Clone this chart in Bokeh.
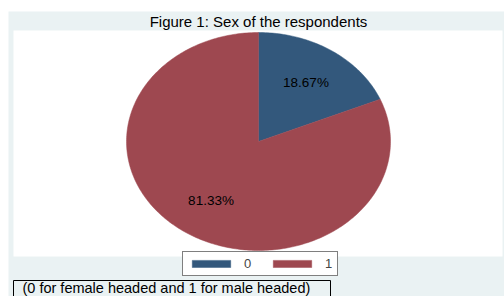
import numpy as np
from bokeh.plotting import figure
from bokeh.models import ColumnDataSource, Range1d
from bokeh.embed import file_html
from bokeh.resources import INLINE
from bokeh.core.properties import value

# ---- data ----
categories = ["0", "1"]
percent = [18.67, 81.33]
colors = ["#33587C", "#9E4850"]
title_text = "Figure 1: Sex of the respondents"
note_text = "(0 for female headed and 1 for male headed)"

W, H = 504, 296
BG = "#EAF2F3"
FONT = value("Liberation Sans")

p = figure(width=W, height=H, output_backend="svg", toolbar_location=None,
           x_axis_type=None, y_axis_type=None, min_border=0,
           x_range=Range1d(0, W), y_range=Range1d(H, 0))
p.outline_line_color = None
p.background_fill_color = "white"
p.border_fill_color = "white"

# background panels
p.quad(left=[8], right=[W], top=[11], bottom=[H], fill_color=BG, line_color=None)
p.quad(left=[13], right=[502], top=[30], bottom=[256], fill_color="white", line_color=None)

# title
p.text(x=[258], y=[21], text=[title_text], text_font=FONT, text_font_size="15px",
       text_align="center", text_baseline="middle", text_color="black")

# pie (elliptical, as in reference)
cx, cy, rx, ry = 258, 141, 132, 109
fr = np.array(percent) / sum(percent)
ends = 90 - 360 * np.cumsum(fr)
starts = np.concatenate([[90], ends[:-1]])
xs, ys, lx, ly = [], [], [], []
for a0, a1 in zip(starts, ends):
    n = max(int(abs(a0 - a1)) + 2, 3)
    th = np.radians(np.linspace(a0, a1, n))
    xs.append(np.concatenate([[cx], cx + rx * np.cos(th)]).tolist())
    ys.append(np.concatenate([[cy], cy - ry * np.sin(th)]).tolist())
    mid = np.radians((a0 + a1) / 2)
    lx.append(cx + 0.65 * rx * np.cos(mid))
    ly.append(cy - 0.65 * ry * np.sin(mid))

src = ColumnDataSource(dict(xs=xs, ys=ys, color=colors, cat=categories))
p.patches(xs="xs", ys="ys", fill_color="color", line_color="color", line_width=0.5,
          source=src, legend_field="cat")

p.text(x=lx, y=ly, text=["%.2f%%" % v for v in percent], text_font=FONT,
       text_font_size="13.5px", text_align="center", text_baseline="middle",
       text_color="black")

# note box
p.quad(left=[13], right=[330], top=[280], bottom=[298], fill_color=BG,
       line_color="black", line_width=1)
p.text(x=[22], y=[287.5], text=[note_text], text_font=FONT, text_font_size="14.5px",
       text_align="left", text_baseline="middle", text_color="black")

# legend
lg = p.legend[0]
lg.orientation = "horizontal"
lg.location = (182, 20)
lg.glyph_width = 48
lg.glyph_height = 9
lg.label_width = 8
lg.label_height = 9
lg.label_standoff = 9
lg.spacing = 16
lg.padding = 4
lg.margin = 0
lg.label_text_font = "Liberation Sans"
lg.label_text_font_size = "13px"
lg.border_line_color = "black"
lg.border_line_width = 1
lg.background_fill_color = "white"
lg.background_fill_alpha = 1

open("out.html", "w").write(file_html(p, INLINE))
